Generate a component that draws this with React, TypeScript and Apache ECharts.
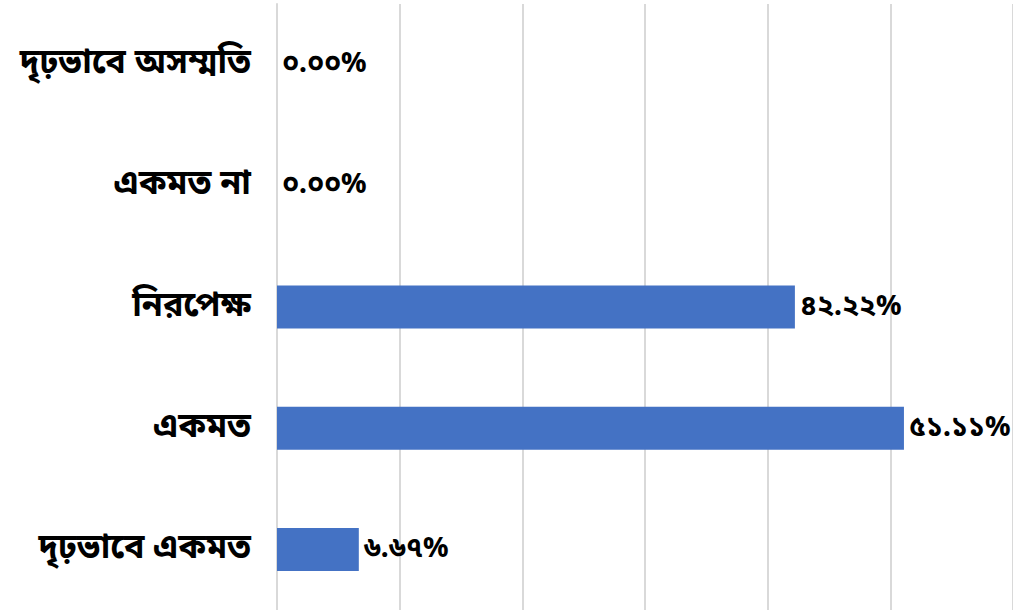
import React, { useEffect, useRef } from "react";
import * as echarts from "echarts";

const categories = ["দৃঢ়ভাবে একমত", "একমত", "নিরপেক্ষ", "একমত না", "দৃঢ়ভাবে অসম্মতি"];
const values = [6.67, 51.11, 42.22, 0.0, 0.0];
const axisMax = 60;
const axisInterval = 10;

const bnDigits = ["০", "১", "২", "৩", "৪", "৫", "৬", "৭", "৮", "৯"];
const toBn = (s: string) => s.replace(/[0-9]/g, (d) => bnDigits[Number(d)]);

const FONT = '"Noto Sans Bengali", "Noto Serif Bengali", Vrinda, "Nirmala UI", sans-serif';

export default function App() {
  const ref = useRef<HTMLDivElement>(null);
  useEffect(() => {
    const chart = echarts.init(ref.current!, null, { renderer: "svg" });
    chart.setOption({
      animation: false,
      grid: { left: 277, top: 4, width: 736, height: 606, containLabel: false },
      xAxis: {
        type: "value",
        min: 0,
        max: axisMax,
        interval: axisInterval,
        axisLabel: { show: false },
        axisLine: { show: false },
        axisTick: { show: false },
        splitLine: { show: true, lineStyle: { color: "#d9d9d9", width: 2 } },
      },
      yAxis: {
        type: "category",
        data: categories,
        axisLine: { show: true, lineStyle: { color: "#d9d9d9", width: 2 } },
        axisTick: { show: false },
        axisLabel: {
          color: "#000",
          fontSize: 34,
          fontWeight: "bold",
          fontFamily: FONT,
          margin: 26,
        },
      },
      series: [
        {
          type: "bar",
          data: values,
          barWidth: 43,
          itemStyle: { color: "#4472C4" },
          label: {
            show: true,
            position: "right",
            distance: 5,
            color: "#000",
            fontSize: 28,
            fontWeight: "bold",
            fontFamily: FONT,
            formatter: (p: any) => toBn(Number(p.value).toFixed(2)) + "%",
          },
        },
      ],
    });
    return () => chart.dispose();
  }, []);
  return (
    <div
      ref={ref}
      style={{ position: "absolute", left: 0, top: 0, width: 1013, height: 610, background: "#fff" }}
    />
  );
}
